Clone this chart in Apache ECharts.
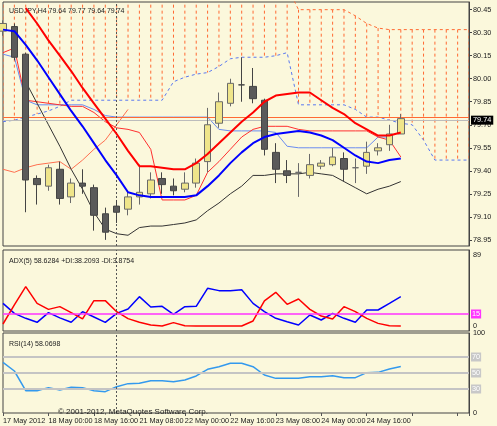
<!DOCTYPE html>
<html><head><meta charset="utf-8">
<script src="https://cdn.jsdelivr.net/npm/echarts@6/dist/echarts.min.js"></script>
<style>html,body{margin:0;padding:0;background:#fbf8dc}#c{width:497px;height:426px}</style>
</head><body><div id="c"></div>
<script>
const timeLabels = ['17 May 2012','','','','18 May 00:00','','','','18 May 16:00','','','','21 May 08:00','','','','22 May 00:00','','','','22 May 16:00','','','','23 May 08:00','','','','24 May 00:00','','','','24 May 16:00','','','','','','','','',''];
// [open, close, low, high]
const candles = [
[80.31,80.36,80.28,80.38],[80.34,80.14,80.12,80.36],[80.16,79.34,79.13,80.17],[79.35,79.31,79.18,79.37],
[79.30,79.42,79.27,79.44],[79.41,79.22,79.18,79.46],[79.23,79.32,79.19,79.35],[79.32,79.30,79.25,79.41],
[79.29,79.11,79.01,79.31],[79.12,79.00,78.95,79.16],[79.17,79.13,79.06,79.21],[79.15,79.23,79.11,79.27],
[79.23,79.26,79.18,79.44],[79.25,79.34,79.22,79.39],[79.35,79.31,79.25,79.39],[79.30,79.27,79.24,79.35],
[79.28,79.32,79.26,79.39],[79.32,79.45,79.29,79.48],[79.46,79.70,79.39,79.81],[79.71,79.85,79.68,79.91],
[79.84,79.97,79.82,80.00],[79.96,79.96,79.85,80.14],[79.95,79.87,79.84,80.07],[79.86,79.54,79.50,79.87],
[79.52,79.41,79.32,79.58],[79.40,79.37,79.32,79.47],[79.39,79.39,79.23,79.45],[79.37,79.44,79.35,79.51],
[79.43,79.45,79.41,79.47],[79.44,79.49,79.43,79.55],[79.48,79.41,79.33,79.52],[79.42,79.42,79.32,79.48],
[79.43,79.52,79.38,79.59],[79.53,79.55,79.50,79.58],[79.57,79.64,79.53,79.70],[79.64,79.74,79.64,79.77]];
const redThick = [null,null,80.46,80.36,80.25,80.15,80.05,79.94,79.84,79.74,79.64,79.53,79.43,79.43,79.42,79.41,79.41,79.45,79.51,79.58,79.65,79.72,79.78,79.85,79.89,79.90,79.91,79.91,79.86,79.81,79.77,79.71,79.67,79.63,79.63,79.65];
const blueThick = [80.32,80.31,80.22,80.12,80.01,79.90,79.79,79.69,79.58,79.47,79.37,79.26,79.24,79.23,79.23,79.23,79.23,79.24,79.30,79.37,79.45,79.52,79.58,79.62,79.64,79.65,79.66,79.65,79.63,79.60,79.55,79.50,79.46,79.45,79.47,79.48];
const blackThin = [null,null,79.98,79.84,79.70,79.56,79.41,79.28,79.13,79.02,78.99,78.98,79.03,79.04,79.04,79.05,79.06,79.08,79.14,79.19,79.25,79.30,79.37,79.37,79.38,79.38,79.38,79.39,79.38,79.37,79.33,79.29,79.25,79.28,79.30,79.33];
const redThin = [80.17,80.20,79.86,79.85,79.84,79.83,79.82,79.82,79.78,79.72,79.68,79.67,79.65,79.54,79.21,79.21,79.21,79.24,79.39,79.46,79.54,79.62,79.67,79.69,79.69,79.69,79.67,79.66,79.66,79.66,79.66,79.66,79.66,79.62,79.60,79.49];
const salmonLag = [79.41,79.39,79.42,79.44,79.45,79.46,79.41,79.47,79.54,79.60,79.70,79.80];
const lightBlue = [80.16,80.14,79.86,79.83,79.83,79.83,79.83,79.83,79.80,79.76,79.75,79.75,79.75,79.75,79.75,79.75,79.75,79.75,79.75,79.67,79.66,79.66,79.66,79.66,79.65,79.56,79.55,79.55,79.55,79.55,79.55,79.55,79.55,79.62,79.62,null];
const spanA = [80.6,80.6,80.6,80.6,80.6,80.6,80.6,80.6,80.6,80.6,80.6,80.6,80.6,80.6,80.6,80.6,80.6,80.6,80.6,80.6,80.6,80.6,80.6,80.6,80.6,80.6,80.45,80.45,80.45,80.45,80.45,80.41,80.36,80.33,80.32,80.32,80.32,80.32,80.32,80.32,80.32,80.32];
const spanB = [79.72,79.73,79.75,79.77,79.79,79.82,79.86,79.86,79.86,79.86,79.86,79.86,79.86,79.86,79.86,79.98,80.01,80.03,80.04,80.08,80.13,80.14,80.14,80.14,80.15,80.17,79.83,79.83,79.83,79.83,79.83,79.80,79.75,79.75,79.73,79.71,79.70,79.60,79.47,79.47,79.47,79.47];
const priceTicks = [78.95,79.10,79.25,79.40,79.55,79.70,79.85,80.00,80.15,80.30,80.45];
const plusDI = [33.3,20.8,14.6,9.6,21.7,15.2,9.6,22.9,16.3,9.6,20.8,26.3,41.7,28.8,29.6,19.6,29.2,29.6,52.1,49.2,49.2,50.4,33.3,22.9,14.6,10.4,6.3,18.8,12.5,20.8,14.6,9.6,25,25,33.3,41.7].map(v=>Math.max(0,v-5));
const minusDI = [7.5,31.3,54.2,33.3,25.8,29.2,21.7,13.8,36.7,36.7,22.9,14.2,9.6,6.3,4.6,9.2,5.4,3.8,2.1,1.3,0,0,11.3,36.3,47.1,32.1,38.8,25.8,17.5,13.8,29.2,22.9,14.6,8.3,5.4,3.3].map(v=>Math.max(0,v-5));
const rsi = [63.3,52.5,27.9,27.9,31.7,28.8,32.1,31.7,27.9,26.7,32.9,36.7,37.1,40.4,40.4,39.2,41.3,46.3,54.6,57.9,62.1,62.1,57.9,47.5,43.3,43.3,43.3,45.4,45.4,46.7,44.2,44.2,50.4,50.8,55,58.1];
const adxLevel = 15, rsiLevels = [70,50,30];
const cursorIndex = '10';

const F = 'Liberation Sans';
const FS = 7;
const cats = timeLabels.map((_, i) => String(i));
const cloud = spanA.map((a, i) => [i, a, spanB[i]]);
function xa(gi, showLabels){
  return {type:'category', gridIndex:gi, data:cats, boundaryGap:false,
    axisLine:{show:false}, axisTick:{show:showLabels, interval:3, length:3, lineStyle:{color:'#555'}},
    axisLabel:{show:showLabels, interval:0, align:'left', margin:4, fontFamily:F, fontSize:7.3, color:'#222',
      hideOverlap:false, formatter:(v,i)=>timeLabels[i]}, splitLine:{show:false}};
}
const gridBase = {left:3, right:28, show:true, borderColor:'#444', borderWidth:1, backgroundColor:'transparent'};
const yLab = {fontFamily:F, fontSize:7.3, color:'#222', margin:4};
const tStyle = {fontFamily:F, fontSize:FS, fontWeight:'normal', color:'#222'};
const opt = {
  backgroundColor:'#fbf8dc', animation:false,
  title:[
    {text:'USDJPY,H4 79.64 79.77 79.64 79.74', left:4, top:3, textStyle:tStyle},
    {text:'ADX(5) 58.6284 +DI:38.2093 -DI:3.8754', left:4, top:253, textStyle:tStyle},
    {text:'RSI(14) 58.0698', left:4, top:336, textStyle:tStyle},
    {text:'© 2001-2012, MetaQuotes Software Corp.', left:53, top:403, textStyle:Object.assign({}, tStyle, {fontSize:8})}
  ],
  grid:[
    Object.assign({top:2, height:244}, gridBase),
    Object.assign({top:250, height:81}, gridBase),
    Object.assign({top:333, height:80}, gridBase)
  ],
  xAxis:[xa(0,false), xa(1,false), xa(2,true)],
  yAxis:[
    {type:'value', gridIndex:0, position:'right', min:78.91, max:80.50, splitLine:{show:false},
     axisLine:{show:true, lineStyle:{color:'#444'}},
     axisTick:{show:true, length:3, customValues:priceTicks},
     axisLabel:Object.assign({customValues:priceTicks, formatter:v=>v.toFixed(2)}, yLab)},
    {type:'value', gridIndex:1, position:'right', min:-6.25, max:95, splitLine:{show:false},
     axisLine:{show:true, lineStyle:{color:'#444'}}, axisTick:{show:false},
     axisLabel:Object.assign({customValues:[0,89]}, yLab)},
    {type:'value', gridIndex:2, position:'right', min:0, max:100, splitLine:{show:false},
     axisLine:{show:true, lineStyle:{color:'#444'}}, axisTick:{show:false},
     axisLabel:Object.assign({customValues:[0,100], verticalAlign:'middle'}, yLab)}
  ],
  series:[
    {type:'custom', xAxisIndex:0, yAxisIndex:0, clip:true, silent:true, data:cloud, z:1,
     renderItem:(params, api)=>{
       const p1 = api.coord([api.value(0), api.value(1)]);
       const p2 = api.coord([api.value(0), api.value(2)]);
       return {type:'line', shape:{x1:p1[0], y1:p1[1], x2:p2[0], y2:p2[1]},
         style:{stroke:'#ff6a33', lineWidth:1, lineDash:[3,3]}};
     }},
    {type:'line', xAxisIndex:0, yAxisIndex:0, data:spanA, symbol:'none', silent:true, z:2,
     lineStyle:{color:'#ff6a33', width:1, type:[3,3]}},
    {type:'line', xAxisIndex:0, yAxisIndex:0, data:spanB, symbol:'none', silent:true, z:2,
     lineStyle:{color:'#5a78f0', width:1, type:[3,3]}},
    {type:'line', xAxisIndex:0, yAxisIndex:0, data:salmonLag, symbol:'none', silent:true, z:3,
     lineStyle:{color:'#ff7050', width:1}},
    {type:'line', xAxisIndex:0, yAxisIndex:0, data:lightBlue, symbol:'none', silent:true, z:3,
     lineStyle:{color:'#6a8cf0', width:1}},
    {type:'line', xAxisIndex:0, yAxisIndex:0, data:redThin, symbol:'none', silent:true, z:3,
     lineStyle:{color:'#ff3030', width:1}},
    {type:'line', xAxisIndex:0, yAxisIndex:0, data:blackThin, symbol:'none', silent:true, z:3,
     lineStyle:{color:'#333', width:1}},
    {type:'candlestick', xAxisIndex:0, yAxisIndex:0, data:candles, barWidth:7, z:5, silent:true,
     itemStyle:{color:'#efe58a', color0:'#5a5a5a', borderColor:'#6a6a6a', borderColor0:'#444', borderWidth:1},
     markLine:{silent:true, symbol:'none', animation:false, data:[
       {yAxis:79.755, lineStyle:{color:'#ff6a33', type:'solid', width:1}, label:{show:false}},
       {yAxis:79.735, lineStyle:{color:'#bcbcbc', type:'solid', width:1},
        label:{show:true, position:'end', distance:2, formatter:'79.74', color:'#fff', backgroundColor:'#000', padding:[1,2], fontFamily:F, fontSize:7.3}},
       {xAxis:cursorIndex, lineStyle:{color:'#555', type:[2,2], width:1}, label:{show:false}}
     ]}},
    {type:'line', xAxisIndex:0, yAxisIndex:0, data:redThick, symbol:'none', silent:true, z:6,
     lineStyle:{color:'#ff0000', width:2}},
    {type:'line', xAxisIndex:0, yAxisIndex:0, data:blueThick, symbol:'none', silent:true, z:6,
     lineStyle:{color:'#0000ff', width:2}},
    {type:'line', xAxisIndex:1, yAxisIndex:1, data:plusDI, symbol:'none', silent:true,
     lineStyle:{color:'#0000ff', width:1.5},
     markLine:{silent:true, symbol:'none', data:[
       {yAxis:adxLevel, lineStyle:{color:'#ff33ff', type:'solid', width:1.5},
        label:{show:true, position:'end', distance:2, formatter:String(adxLevel), color:'#fff', backgroundColor:'#ff33ff', padding:[1,1], fontFamily:F, fontSize:7.3}},
       {xAxis:cursorIndex, lineStyle:{color:'#555', type:[2,2], width:1}, label:{show:false}}]}},
    {type:'line', xAxisIndex:1, yAxisIndex:1, data:minusDI, symbol:'none', silent:true,
     lineStyle:{color:'#ff0000', width:1.5}},
    {type:'line', xAxisIndex:2, yAxisIndex:2, data:rsi, symbol:'none', silent:true, z:4,
     lineStyle:{color:'#3399ee', width:1.5},
     markLine:{silent:true, symbol:'none', data:rsiLevels.map(l=>({yAxis:l, lineStyle:{color:'#c4c4c4', type:'solid', width:2},
        label:{show:true, position:'end', distance:2, formatter:String(l), color:'#fff', backgroundColor:'#c8c8c8', padding:[1,1], fontFamily:F, fontSize:7.3}}))
        .concat([{xAxis:cursorIndex, lineStyle:{color:'#555', type:[2,2], width:1}, label:{show:false}}])}}
  ]
};
echarts.init(document.getElementById('c')).setOption(opt);
</script></body></html>
